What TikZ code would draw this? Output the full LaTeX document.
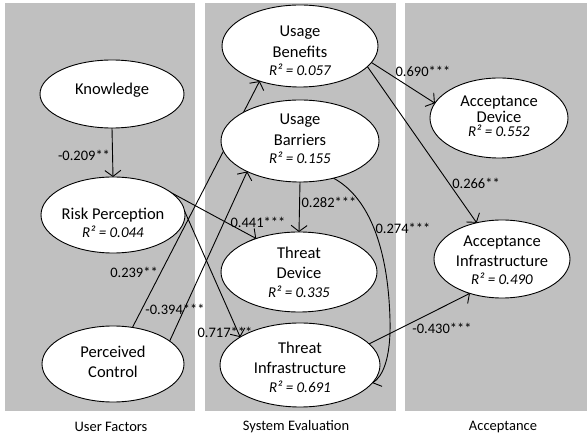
\documentclass[tikz,border=0pt]{standalone}
\usepackage{fontspec}
\setmainfont{Carlito}
\usetikzlibrary{arrows.meta,shapes.geometric}
\definecolor{panelgray}{RGB}{192,192,192}
\newcommand\rsq[1]{{\fontsize{15}{18}\selectfont\itshape R² = #1}}
\pgfdeclarelayer{bg}
\pgfdeclarelayer{edges}
\pgfsetlayers{bg,edges,main}
\begin{document}
\begin{tikzpicture}[x=1pt,y=-1pt,
  ell/.style={draw=black,line width=0.9pt,fill=white,ellipse,inner sep=0pt,outer sep=0pt},
  txt/.style={align=center,inner sep=0pt,font=\fontsize{16.5}{20.5}\selectfont},
  txtb/.style={align=center,inner sep=0pt,font=\fontsize{16.5}{16}\selectfont},
  lab/.style={inner sep=0pt,font=\fontsize{14.5}{17}\selectfont},
  captext/.style={inner sep=0pt,font=\fontsize{14.5}{17}\selectfont},
  link/.style={line width=0.9pt,-{Straight Barb[length=6pt,width=16pt,line width=0.9pt]}}]
\useasboundingbox (0,0) rectangle (587,438);
\begin{pgfonlayer}{bg}
  \fill[panelgray] (5,3) rectangle (195,411);
  \fill[panelgray] (205,3) rectangle (396,411);
  \fill[panelgray] (405,3) rectangle (587,411);
\end{pgfonlayer}

% ellipses
\node[ell,minimum width=144pt,minimum height=68pt] (kn) at (112,94) {};
\node[ell,minimum width=144pt,minimum height=76pt] (rp) at (113,215) {};
\node[ell,minimum width=142pt,minimum height=76pt] (pc) at (113,364) {};
\node[ell,minimum width=156pt,minimum height=82pt] (ub) at (300,46) {};
\node[ell,minimum width=158pt,minimum height=82pt] (ubr) at (300,141) {};
\node[ell,minimum width=156pt,minimum height=80pt] (td) at (299,272) {};
\node[ell,minimum width=160pt,minimum height=84pt] (ti) at (300,365) {};
\node[ell,minimum width=138pt,minimum height=80pt] (ad) at (499,118) {};
\node[ell,minimum width=136pt,minimum height=78pt] (ai) at (502,259) {};

% texts
\node[txt] (knt) at (112,90) {Knowledge};
\node[txt] (rpt) at (113,223) {Risk Perception\\[-2pt]\rsq{0.044}};
\node[txt] (pct) at (113,362) {Perceived\\Control};
\node[txt] (ubt) at (300,51) {Usage\\Benefits\\[-2pt]\rsq{0.057}};
\node[txt] (ubrt) at (300,139) {Usage\\Barriers\\[-2pt]\rsq{0.155}};
\node[txt] (tdt) at (299,272) {Threat\\Device\\[-2pt]\rsq{0.335}};
\node[txt] (tit) at (300,367) {Threat\\Infrastructure\\[-2pt]\rsq{0.691}};
\node[txtb] (adt) at (499,116) {Acceptance\\Device\\[-2pt]\rsq{0.552}};
\node[txt] (ait) at (502,260) {Acceptance\\Infrastructure\\[-3pt]\rsq{0.490}};

% connectors
\begin{pgfonlayer}{edges}
  \draw[link] (kn.south) -- (rp.north);
  \draw[link] (rp.35) -- (td.142);
  \draw[link] (rp.3) -- (ti.155);
  \draw[link] (pc.62) -- (ub.221);
  \draw[link] (pc.22) -- (ubr.210);
  \draw[link] (ubr.south) -- (td.north);
  \draw[link] (ubr.-48) .. controls (365,195) and (388,240) .. (390,320)
     .. controls (391,360) and (382,377) .. (ti.-14);
  \draw[link] (ub.-13) -- (ad.167);
  \draw[link] (ub.-17) -- (ai.125);
  \draw[link] (ti.17) -- (ai.227);
\end{pgfonlayer}

% labels
\node[lab] (l1) at (84,155) {-0.209**};
\node[lab] (l2) at (258,222) {0.441***};
\node[lab] (l3) at (225,332) {0.717***};
\node[lab] (l4) at (134,272) {0.239**};
\node[lab] (l5) at (175,309) {-0.394***};
\node[lab] (l6) at (329,202) {0.282***};
\node[lab] (l7) at (403,228) {0.274***};
\node[lab] (l8) at (423,71) {0.690***};
\node[lab] (l9) at (476,183) {0.266**};
\node[lab] (l10) at (442,328) {-0.430***};

% captions
\node[captext] (c1) at (111,427) {User Factors};
\node[captext] (c2) at (296,427) {System Evaluation};
\node[captext] (c3) at (503,427) {Acceptance};
\end{tikzpicture}
\end{document}
